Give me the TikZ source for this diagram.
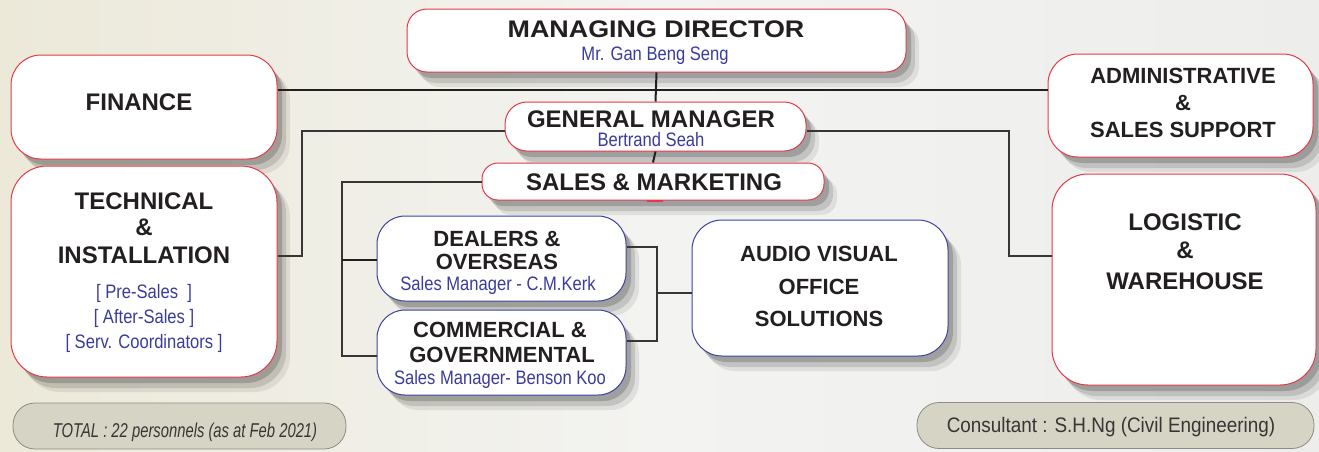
\documentclass[tikz,border=0pt]{standalone}
\usepackage{fontspec}
\setmainfont{Liberation Sans}
\newfontfamily\bluefont[FakeStretch=0.85]{Liberation Sans}
\newfontfamily\mdfont[FakeStretch=1.12]{Liberation Sans}
\newfontfamily\totfont[FakeStretch=0.74]{Liberation Sans}
\newfontfamily\consfont[FakeStretch=0.9]{Liberation Sans}
\usetikzlibrary{shadows}
\definecolor{boxred}{HTML}{E23A48}
\definecolor{boxblue}{HTML}{3C44A0}
\definecolor{txtblue}{HTML}{3A3C9C}
\definecolor{txtdark}{HTML}{231F20}
\definecolor{grayfill}{HTML}{D6D4C4}
\definecolor{grayline}{HTML}{8C8C84}
\definecolor{bgleft}{HTML}{ECE9D9}
\definecolor{bgmid}{HTML}{F3F3F1}
\definecolor{bgright}{HTML}{EDEDEB}
\begin{document}
\begin{tikzpicture}[x=1pt,y=-1pt,
  shadowed/.style={drop shadow={shadow xshift=13pt,shadow yshift=-15pt,opacity=0.08,fill=black},
                   drop shadow={shadow xshift=9pt,shadow yshift=-11pt,opacity=0.12,fill=black},
                   drop shadow={shadow xshift=5pt,shadow yshift=-6pt,opacity=0.18,fill=black}},
  redbox/.style={draw=boxred,line width=1pt,fill=white,rounded corners=#1,shadowed,inner sep=0pt},
  redbox/.default=22pt,
  bluebox/.style={draw=boxblue,line width=1pt,fill=white,rounded corners=#1,shadowed,inner sep=0pt},
  bluebox/.default=28pt,
  graybox/.style={draw=grayline,line width=0.8pt,fill=grayfill,rounded corners=22pt,inner sep=0pt},
  ttl/.style={font=\fontsize{24}{24}\selectfont\bfseries,text=txtdark,anchor=base,inner sep=0pt},
  ttls/.style={font=\fontsize{22}{22}\selectfont\bfseries,text=txtdark,anchor=base,inner sep=0pt},
  sub/.style={font=\bluefont\fontsize{19.5}{19.5}\selectfont,text=txtblue,anchor=base,inner sep=0pt},
  conn/.style={draw=txtdark,line width=2pt},
  thinconn/.style={draw=txtdark!90,line width=1.6pt}]
\useasboundingbox (0,0) rectangle (1319,451);
\shade[left color=bgleft,right color=bgright,middle color=bgmid] (0,0) rectangle (1319,451);
% junction coordinates
\coordinate (j1) at (656,90);
\coordinate (gl) at (302,131);
\coordinate (tl) at (302,256);
\coordinate (gr) at (1009,131);
\coordinate (tr) at (1009,256);
\coordinate (sl) at (342,182);
\coordinate (dl) at (342,260);
\coordinate (cl) at (342,356);
\coordinate (dr) at (657,247);
\coordinate (cr) at (657,341);
\coordinate (ar) at (657,293);
% boxes
\node[redbox=20pt,minimum width=499,minimum height=63] (md) at (656.5,40.5) {};
\node[redbox=30pt,minimum width=266,minimum height=104] (fin) at (144,107) {};
\node[redbox=36pt,minimum width=266,minimum height=211] (tech) at (144,271.5) {};
\node[redbox=22pt,minimum width=301,minimum height=49] (gm) at (655.5,126.5) {};
\node[redbox=16pt,minimum width=342,minimum height=37] (sm) at (653,181.5) {};
\node[bluebox=28pt,minimum width=249,minimum height=85] (dea) at (501.5,258.5) {};
\node[bluebox=28pt,minimum width=249,minimum height=85] (com) at (501.5,352.5) {};
\node[bluebox=30pt,minimum width=256,minimum height=136] (av) at (820,288) {};
\node[redbox=30pt,minimum width=265,minimum height=103] (adm) at (1180.5,105.5) {};
\node[redbox=36pt,minimum width=264,minimum height=211] (log) at (1184,279.5) {};
\node[graybox,minimum width=333,minimum height=46] (tot) at (179.5,426) {};
\node[graybox,minimum width=397,minimum height=46] (cons) at (1115.5,425.5) {};
% connectors
\draw[conn,line width=2.5pt] (j1 -| fin.east) -- (j1 -| adm.west);
\draw[conn] (md.south) -- (gm.north);
\draw[conn] (gm.south) -- (sm.north);
\draw[thinconn] (gl -| gm.west) -- (gl) -- (tl) -- (tl -| tech.east);
\draw[thinconn] (gr -| gm.east) -- (gr) -- (tr) -- (tr -| log.west);
\draw[thinconn] (sl -| sm.west) -- (sl) -- (cl) -- (cl -| com.west);
\draw[conn] (dl) -- (dl -| dea.west);
\draw[thinconn] (dr -| dea.east) -- (dr) -- (cr) -- (cr -| com.east);
\draw[thinconn] (ar) -- (ar -| av.west);
\draw[boxred,line width=1.5pt] (sm.south) ++(-6,0.5) coordinate (rt1) -- ++(16,0) coordinate (rt2);
% texts
\node[ttl,font=\mdfont\fontsize{24}{24}\selectfont\bfseries] (mdt) at (656,37) {MANAGING DIRECTOR};
\node[sub] (mds) at (655,60) {Mr. Gan Beng Seng};
\node[ttl] (fint) at (139,110) {FINANCE};
\node[ttl] (tech1) at (144,209) {TECHNICAL};
\node[ttl] (tech2) at (144,235) {\&};
\node[ttl] (tech3) at (144,263) {INSTALLATION};
\node[sub] (tech4) at (144,298) {[ Pre-Sales\ \ ]};
\node[sub] (tech5) at (144,323) {[ After-Sales ]};
\node[sub] (tech6) at (144,348) {[ Serv. Coordinators ]};
\node[ttl] (gmt) at (651,127) {GENERAL MANAGER};
\node[sub] (gms) at (651,146.5) {Bertrand Seah};
\node[ttl] (smt) at (654,190) {SALES \& MARKETING};
\node[ttls] (dea1) at (497,246) {DEALERS \&};
\node[ttls] (dea2) at (497,269) {OVERSEAS};
\node[sub] (dea3) at (498,290) {Sales Manager - C.M.Kerk};
\node[ttls] (com1) at (500,337) {COMMERCIAL \&};
\node[ttls] (com2) at (502,362) {GOVERNMENTAL};
\node[sub] (com3) at (500,384) {Sales Manager- Benson Koo};
\node[ttls] (av1) at (819,261) {AUDIO VISUAL};
\node[ttls] (av2) at (819,294) {OFFICE};
\node[ttls] (av3) at (819,326) {SOLUTIONS};
\node[ttls] (adm1) at (1183,83) {ADMINISTRATIVE};
\node[ttls] (adm2) at (1183,110) {\&};
\node[ttls] (adm3) at (1183,137) {SALES SUPPORT};
\node[ttl] (log1) at (1185,230) {LOGISTIC};
\node[ttl] (log2) at (1185,258) {\&};
\node[ttl] (log3) at (1185,289) {WAREHOUSE};
\node[anchor=base,inner sep=0pt,text=txtdark!90,font=\totfont\itshape\fontsize{20}{20}\selectfont] (tott) at (185,437) {TOTAL : 22 personnels (as at Feb 2021)};
\node[anchor=base,inner sep=0pt,text=txtdark!90,font=\consfont\fontsize{21}{21}\selectfont] (const) at (1111,432) {Consultant : S.H.Ng (Civil Engineering)};
\end{tikzpicture}
\end{document}
